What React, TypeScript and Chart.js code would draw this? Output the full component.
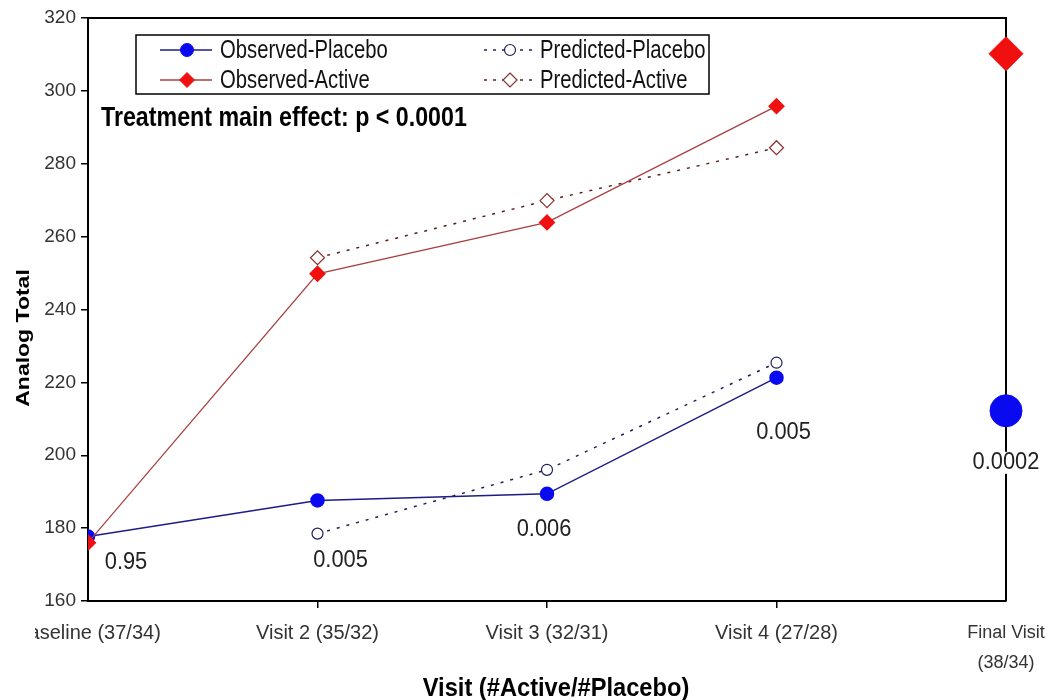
import React, { useEffect, useRef } from 'react';
import { Chart, registerables } from 'chart.js';

Chart.register(...registerables);

// ---------------- data ----------------
const categories: (string | string[])[] = [
  'Baseline (37/34)',
  'Visit 2 (35/32)',
  'Visit 3 (32/31)',
  'Visit 4 (27/28)',
  ['Final Visit', '(38/34)'],
];
const observedPlacebo: (number | null)[] = [177.7, 187.6, 189.4, 221.3];
const observedActive: (number | null)[] = [176.0, 249.8, 263.9, 295.8];
const predictedPlacebo: (number | null)[] = [null, 178.5, 196.0, 225.4];
const predictedActive: (number | null)[] = [null, 254.2, 269.9, 284.4];
const finalPlacebo = 212.2;
const finalActive = 310.2;
const finalIndex = 4;
const pValues = ['0.95', '0.005', '0.006', '0.005', '0.0002'];
const legendLabels = ['Observed-Placebo', 'Predicted-Placebo', 'Observed-Active', 'Predicted-Active'];
const annotationText = 'Treatment main effect: p < 0.0001';
const yTitle = 'Analog Total';
const xTitle = 'Visit (#Active/#Placebo)';
const yMin = 160;
const yMax = 320;
const yStep = 20;

// ---------------- styles ----------------
const BLUE = '#0a0af0';
const BLUE_LINE = '#1c1c86';
const RED = '#f01010';
const RED_LINE = '#a84040';
const PRED_P = '#20205a';
const PRED_A = '#5a2020';
const FONT = 'Arial, "Liberation Sans", sans-serif';

const toXY = (arr: (number | null)[]) =>
  arr.map((y, i) => (y == null ? null : { x: i, y })).filter((p) => p !== null) as { x: number; y: number }[];

function drawText(
  ctx: CanvasRenderingContext2D,
  s: string,
  x: number,
  y: number,
  font: string,
  sx: number,
  align: CanvasTextAlign = 'left',
  color = '#111'
) {
  ctx.save();
  ctx.font = font;
  ctx.fillStyle = color;
  ctx.textAlign = align;
  ctx.textBaseline = 'middle';
  ctx.translate(x, y);
  ctx.scale(sx, 1);
  ctx.fillText(s, 0, 0);
  ctx.restore();
}

function marker(ctx: CanvasRenderingContext2D, kind: 'circle' | 'diamond', x: number, y: number, r: number, fill: string | null, stroke: string, lw: number) {
  ctx.save();
  ctx.beginPath();
  if (kind === 'circle') {
    ctx.arc(x, y, r, 0, Math.PI * 2);
  } else {
    ctx.moveTo(x, y - r);
    ctx.lineTo(x + r, y);
    ctx.lineTo(x, y + r);
    ctx.lineTo(x - r, y);
    ctx.closePath();
  }
  if (fill) {
    ctx.fillStyle = fill;
    ctx.fill();
  }
  ctx.strokeStyle = stroke;
  ctx.lineWidth = lw;
  ctx.stroke();
  ctx.restore();
}

const framePlugin = {
  id: 'frame',
  beforeDatasetsDraw(chart: any) {
    const { ctx, chartArea: a } = chart;
    ctx.save();
    ctx.strokeStyle = '#000';
    ctx.lineWidth = 2;
    ctx.beginPath();
    ctx.moveTo(a.left, a.top);
    ctx.lineTo(a.right, a.top);
    ctx.lineTo(a.right, a.bottom);
    ctx.stroke();
    ctx.restore();
  },
  afterDraw(chart: any) {
    const { ctx, chartArea: a, scales } = chart;
    // clip region of the original image (baseline label cut at the left)
    ctx.save();
    ctx.fillStyle = '#fff';
    ctx.fillRect(0, a.bottom + 12, 35, 40);
    ctx.restore();

    // p-value labels, placed below the observed placebo points
    const offsets = [
      [38, 26],
      [23, 60],
      [-3, 36],
      [7, 55],
      [0, 52],
    ];
    const pts = [...observedPlacebo, finalPlacebo];
    pValues.forEach((p, i) => {
      const v = pts[i];
      if (v == null) return;
      const px = scales.x.getPixelForValue(i) + offsets[i][0];
      const py = scales.y.getPixelForValue(v) + offsets[i][1];
      ctx.save();
      ctx.font = `23px ${FONT}`;
      const w = ctx.measureText(p).width * 0.95;
      ctx.fillStyle = '#fff';
      ctx.fillRect(px - w / 2 - 2, py - 11, w + 4, 22);
      ctx.restore();
      drawText(ctx, p, px, py, `23px ${FONT}`, 0.95, 'center', '#222');
    });

    // legend
    const bx = 136, by = 35, bw = 573, bh = 59;
    ctx.save();
    ctx.fillStyle = '#fff';
    ctx.fillRect(bx, by, bw, bh);
    ctx.strokeStyle = '#000';
    ctx.lineWidth = 1.5;
    ctx.strokeRect(bx, by, bw, bh);
    ctx.restore();
    const rows = [50, 80];
    const cols = [
      { l0: 160, l1: 212, m: 187, t: 220 },
      { l0: 484, l1: 536, m: 510, t: 540 },
    ];
    const entries = [
      { row: 0, col: 0, kind: 'circle', dashed: false, line: BLUE_LINE, fill: BLUE, stroke: BLUE, r: 6.5 },
      { row: 0, col: 1, kind: 'circle', dashed: true, line: PRED_P, fill: '#fff', stroke: PRED_P, r: 5.5 },
      { row: 1, col: 0, kind: 'diamond', dashed: false, line: RED_LINE, fill: RED, stroke: RED, r: 7.5 },
      { row: 1, col: 1, kind: 'diamond', dashed: true, line: PRED_A, fill: '#fff', stroke: '#8a3030', r: 7 },
    ] as const;
    entries.forEach((e) => {
      const y = rows[e.row];
      const c = cols[e.col];
      ctx.save();
      ctx.strokeStyle = e.line;
      ctx.lineWidth = 1.5;
      if (e.dashed) ctx.setLineDash([3, 6]);
      ctx.beginPath();
      ctx.moveTo(c.l0, y);
      ctx.lineTo(c.l1, y);
      ctx.stroke();
      ctx.restore();
      marker(ctx, e.kind, c.m, y, e.r, e.fill, e.stroke, e.dashed ? 1.2 : 1);
      const label = legendLabels[e.row * 2 + e.col];
      drawText(ctx, label, c.t, y + 1, `25px ${FONT}`, 0.81, 'left', '#111');
    });

    // annotation
    drawText(ctx, annotationText, 101, 119, `bold 27px ${FONT}`, 0.86, 'left', '#000');

    // axis titles
    ctx.save();
    ctx.translate(24, 338);
    ctx.rotate(-Math.PI / 2);
    ctx.scale(1, 0.82);
    ctx.font = `bold 23px ${FONT}`;
    ctx.fillStyle = '#000';
    ctx.textAlign = 'center';
    ctx.textBaseline = 'middle';
    ctx.fillText(yTitle, 0, 0);
    ctx.restore();
    drawText(ctx, xTitle, 556, 689, `bold 26px ${FONT}`, 0.91, 'center', '#000');
  },
};

export default function App() {
  const ref = useRef<HTMLCanvasElement | null>(null);
  useEffect(() => {
    if (!ref.current) return;
    const chart = new Chart(ref.current, {
      type: 'line',
      data: {
        datasets: [
          {
            label: 'Observed-Active',
            data: toXY(observedActive),
            borderColor: RED_LINE,
            borderWidth: 1.3,
            backgroundColor: RED,
            pointBackgroundColor: RED,
            pointBorderColor: RED,
            pointStyle: 'rectRot',
            pointRadius: 7.5,
            tension: 0,
          },
          {
            label: 'Observed-Placebo',
            data: toXY(observedPlacebo),
            borderColor: BLUE_LINE,
            borderWidth: 1.5,
            backgroundColor: BLUE,
            pointBackgroundColor: BLUE,
            pointBorderColor: BLUE,
            pointStyle: 'circle',
            pointRadius: 6.5,
            tension: 0,
          },
          {
            label: 'Predicted-Active',
            data: toXY(predictedActive),
            borderColor: PRED_A,
            borderWidth: 1.5,
            borderDash: [3, 7],
            pointBackgroundColor: '#fff',
            pointBorderColor: '#8a3030',
            pointBorderWidth: 1.2,
            pointStyle: 'rectRot',
            pointRadius: 7,
            tension: 0,
          },
          {
            label: 'Predicted-Placebo',
            data: toXY(predictedPlacebo),
            borderColor: PRED_P,
            borderWidth: 1.5,
            borderDash: [3, 7],
            pointBackgroundColor: '#fff',
            pointBorderColor: PRED_P,
            pointBorderWidth: 1.2,
            pointStyle: 'circle',
            pointRadius: 5.5,
            tension: 0,
          },
          {
            label: 'Final-Placebo',
            data: [{ x: finalIndex, y: finalPlacebo }],
            showLine: false,
            pointBackgroundColor: BLUE,
            pointBorderColor: BLUE,
            pointStyle: 'circle',
            pointRadius: 16,
            clip: false as any,
          },
          {
            label: 'Final-Active',
            data: [{ x: finalIndex, y: finalActive }],
            showLine: false,
            pointBackgroundColor: RED,
            pointBorderColor: RED,
            pointStyle: 'rectRot',
            pointRadius: 17,
            clip: false as any,
          },
        ],
      },
      options: {
        animation: false,
        responsive: false,
        maintainAspectRatio: false,
        layout: { padding: { top: 16, right: 41, left: 0, bottom: 0 } },
        plugins: {
          legend: { display: false },
          tooltip: { enabled: false },
        },
        scales: {
          x: {
            type: 'linear',
            min: 0,
            max: finalIndex,
            border: { display: true, color: '#000', width: 2 },
            grid: {
              drawOnChartArea: false,
              drawTicks: true,
              tickLength: 7,
              lineWidth: 1.5,
              color: (c: any) =>
                c.tick && c.tick.value > 0 && c.tick.value < finalIndex ? '#000' : 'rgba(0,0,0,0)',
            },
            ticks: {
              stepSize: 1,
              autoSkip: false,
              maxRotation: 0,
              callback: (v: any) => categories[Math.round(Number(v))] as any,
              font: (c: any) => ({
                family: FONT,
                size: c.tick && c.tick.value === finalIndex ? 18 : 20,
                lineHeight: c.tick && c.tick.value === finalIndex ? 1.67 : 1.5,
              }),
              color: '#333',
              padding: 10,
            },
            afterFit: (s: any) => {
              s.height = 99;
              s.paddingLeft = 0;
              s.paddingRight = 0;
            },
          },
          y: {
            type: 'linear',
            min: yMin,
            max: yMax,
            border: { display: true, color: '#000', width: 2 },
            grid: { drawOnChartArea: false, drawTicks: true, tickLength: 7, lineWidth: 1.5, color: '#000' },
            ticks: {
              stepSize: yStep,
              font: { family: FONT, size: 19 },
              color: '#333',
              padding: 5,
            },
            afterFit: (s: any) => {
              s.width = 88;
              s.paddingTop = 0;
              s.paddingBottom = 0;
            },
          },
        },
      },
      plugins: [framePlugin],
    });
    return () => chart.destroy();
  }, []);
  return (
    <div style={{ position: 'fixed', left: 0, top: 0, width: 1047, height: 700, background: '#fff' }}>
      <canvas ref={ref} width={1047} height={700} style={{ display: 'block', width: 1047, height: 700 }} />
    </div>
  );
}
